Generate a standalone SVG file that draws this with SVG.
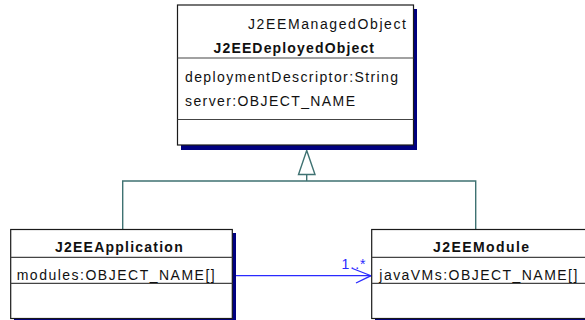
<svg xmlns="http://www.w3.org/2000/svg" width="585" height="320" viewBox="0 0 585 320">
  <style>
    .box { fill: #ffffff; stroke: #1a1a1a; stroke-width: 1.2; }
    .shadow { fill: #000080; }
    .sep { stroke: #444444; stroke-width: 1.2; }
    .t { font-family: "Liberation Sans", Arial, sans-serif; font-size: 14px; fill: #111111; }
    .b { font-weight: bold; }
    .gen { fill: none; stroke: #3f7272; stroke-width: 1.4; }
    .assoc { fill: none; stroke: #2a2aff; stroke-width: 1.3; }
    .mult { font-family: "Liberation Sans", Arial, sans-serif; font-size: 14px; fill: #2a2aff; }
  </style>

  <!-- connectors -->
  <g id="connectors">
    <!-- generalization tree -->
    <polygon class="gen" fill="#ffffff" points="306.7,150.5 298.5,174.5 315,174.5"/>
    <path class="gen" d="M306.7,174.5 V181 M122.7,229.5 V181 H475.7 V229.5"/>
    <!-- navigable association with multiplicity -->
    <path class="assoc" d="M236,275.7 H371"/>
    <path class="assoc" d="M352.5,268.5 L371,275.7 L356,283"/>
    <text class="mult" x="341.5" y="269" textLength="24" lengthAdjust="spacing">1..*</text>
  </g>

  <!-- J2EEDeployedObject -->
  <g id="J2EEDeployedObject">
    <rect class="shadow" x="181" y="9" width="236" height="141"/>
    <rect class="box" x="177.5" y="5" width="236" height="140"/>
    <line class="sep" x1="177.5" y1="58" x2="413.5" y2="58"/>
    <line class="sep" x1="177.5" y1="119.5" x2="413.5" y2="119.5"/>
    <text class="t" x="248" y="28.5" textLength="158" lengthAdjust="spacing">J2EEManagedObject</text>
    <text class="t b" x="213.5" y="53" textLength="160.5" lengthAdjust="spacing">J2EEDeployedObject</text>
    <text class="t" x="185" y="82" textLength="213" lengthAdjust="spacing">deploymentDescriptor:String</text>
    <text class="t" x="185" y="106" textLength="170" lengthAdjust="spacing">server:OBJECT_NAME</text>
  </g>

  <!-- J2EEApplication -->
  <g id="J2EEApplication">
    <rect class="shadow" x="14" y="233" width="222" height="90"/>
    <rect class="box" x="10.7" y="229.5" width="221.6" height="89"/>
    <line class="sep" x1="10.7" y1="257.3" x2="232.3" y2="257.3"/>
    <line class="sep" x1="10.7" y1="283.3" x2="232.3" y2="283.3"/>
    <text class="t b" x="55" y="252" textLength="127.7" lengthAdjust="spacing">J2EEApplication</text>
    <text class="t" x="16.7" y="279.5" textLength="198" lengthAdjust="spacing">modules:OBJECT_NAME[]</text>
  </g>

  <!-- J2EEModule -->
  <g id="J2EEModule">
    <rect class="shadow" x="375" y="233" width="222" height="90"/>
    <rect class="box" x="371.7" y="229.5" width="219" height="89"/>
    <line class="sep" x1="371.7" y1="257.3" x2="590.7" y2="257.3"/>
    <line class="sep" x1="371.7" y1="283.3" x2="590.7" y2="283.3"/>
    <text class="t b" x="433" y="252" textLength="96" lengthAdjust="spacing">J2EEModule</text>
    <text class="t" x="379.3" y="279.5" textLength="198" lengthAdjust="spacing">javaVMs:OBJECT_NAME[]</text>
  </g>
</svg>
